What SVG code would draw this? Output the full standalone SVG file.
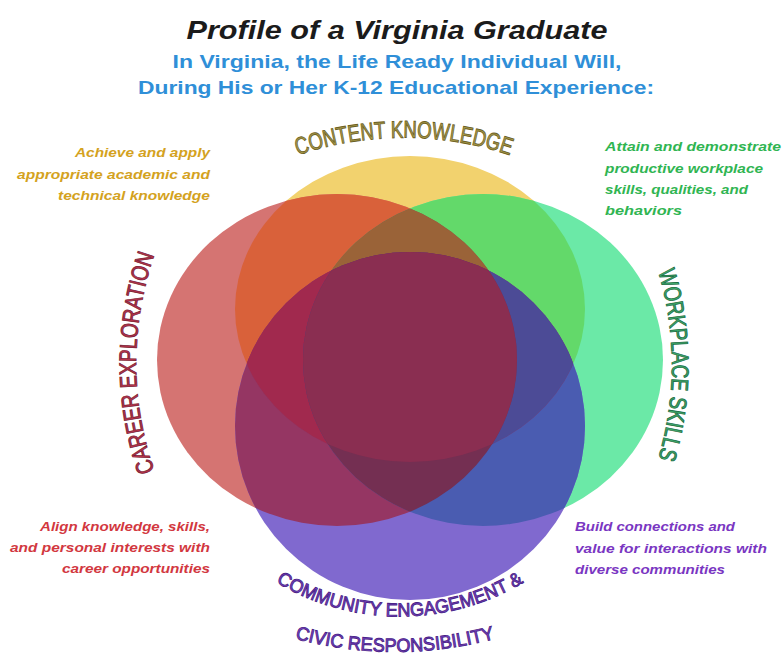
<svg xmlns="http://www.w3.org/2000/svg" xmlns:xlink="http://www.w3.org/1999/xlink" width="782" height="655" viewBox="0 0 782 655">
<style>
  .title{font-family:"Liberation Sans",Arial,sans-serif;font-weight:bold;font-style:italic;font-size:25px;fill:#1b1b1b;}
  .sub{font-family:"Liberation Sans",Arial,sans-serif;font-weight:bold;font-size:19px;fill:#2F8FD8;}
  .desc{font-family:"Liberation Sans",Arial,sans-serif;font-weight:bold;font-style:italic;font-size:13px;}
  .arc{font-family:"Liberation Sans Narrow","Liberation Sans",Arial,sans-serif;font-size:24px;stroke-width:0.9px;}
  .arcS{font-family:"Liberation Sans Narrow","Liberation Sans",Arial,sans-serif;font-size:19px;stroke-width:0.9px;}
</style>
<defs>
  <ellipse id="eY" cx="410" cy="309" rx="175" ry="153"/>
  <ellipse id="eR" cx="337" cy="360" rx="180" ry="166"/>
  <ellipse id="eG" cx="483" cy="360" rx="180" ry="166"/>
  <ellipse id="eP" cx="410" cy="426" rx="175" ry="174"/>
  <clipPath id="cY"><use xlink:href="#eY"/></clipPath>
  <clipPath id="cR"><use xlink:href="#eR"/></clipPath>
  <clipPath id="cG"><use xlink:href="#eG"/></clipPath>
  <clipPath id="cP"><use xlink:href="#eP"/></clipPath>
  <path id="pCK" d="M 290 158 A 330 330 0 0 1 518 158"/>
  <path id="pCE" d="M 157 478 A 328 328 0 0 1 157 248"/>
  <path id="pWS" d="M 654 258 A 329 329 0 0 1 654 472"/>
  <path id="pCM" d="M 255 568 A 241 241 0 0 0 545 568"/>
  <path id="pCV" d="M 262 628 A 382 382 0 0 0 528 628"/>
</defs>

<g id="header">
  <text class="title" x="397" y="39" text-anchor="middle" textLength="421" lengthAdjust="spacingAndGlyphs">Profile of a Virginia Graduate</text>
  <text class="sub" x="397" y="68" text-anchor="middle" textLength="449" lengthAdjust="spacingAndGlyphs">In Virginia, the Life Ready Individual Will,</text>
  <text class="sub" x="396" y="94" text-anchor="middle" textLength="516" lengthAdjust="spacingAndGlyphs">During His or Her K-12 Educational Experience:</text>
</g>

<g id="content-knowledge">
  <use xlink:href="#eY" fill="#F2D26E"/>
  <text class="arc" fill="#A99B4A" stroke="#6C6024"><textPath xlink:href="#pCK" startOffset="50%" text-anchor="middle" textLength="216" lengthAdjust="spacingAndGlyphs">CONTENT KNOWLEDGE</textPath></text>
  <g class="desc" fill="#D4A21E" text-anchor="end">
    <text x="210" y="157" textLength="135" lengthAdjust="spacingAndGlyphs">Achieve and apply</text>
    <text x="210" y="179" textLength="193" lengthAdjust="spacingAndGlyphs">appropriate academic and</text>
    <text x="210" y="200" textLength="152" lengthAdjust="spacingAndGlyphs">technical knowledge</text>
  </g>
</g>

<g id="career-exploration">
  <use xlink:href="#eR" fill="#D57472"/>
  <text class="arc" fill="#B8344C" stroke="#7A1E34"><textPath xlink:href="#pCE" startOffset="50%" text-anchor="middle" textLength="220" lengthAdjust="spacingAndGlyphs">CAREER EXPLORATION</textPath></text>
  <g class="desc" fill="#D2383F" text-anchor="end">
    <text x="210" y="531" textLength="170" lengthAdjust="spacingAndGlyphs">Align knowledge, skills,</text>
    <text x="210" y="552" textLength="200" lengthAdjust="spacingAndGlyphs">and personal interests with</text>
    <text x="210" y="573" textLength="148" lengthAdjust="spacingAndGlyphs">career opportunities</text>
  </g>
</g>

<g id="workplace-skills">
  <use xlink:href="#eG" fill="#6BE9A7"/>
  <text class="arc" fill="#3EAA6C" stroke="#1E6E44"><textPath xlink:href="#pWS" startOffset="50%" text-anchor="middle" textLength="190" lengthAdjust="spacingAndGlyphs">WORKPLACE SKILLS</textPath></text>
  <g class="desc" fill="#30B552">
    <text x="605" y="151" textLength="176" lengthAdjust="spacingAndGlyphs">Attain and demonstrate</text>
    <text x="605" y="173" textLength="158" lengthAdjust="spacingAndGlyphs">productive workplace</text>
    <text x="605" y="194" textLength="143" lengthAdjust="spacingAndGlyphs">skills, qualities, and</text>
    <text x="605" y="215" textLength="77" lengthAdjust="spacingAndGlyphs">behaviors</text>
  </g>
</g>

<g id="community-engagement">
  <use xlink:href="#eP" fill="#8069CF"/>
  <text class="arcS" fill="#7A45C6" stroke="#4A2388"><textPath xlink:href="#pCM" startOffset="50%" text-anchor="middle" textLength="260" lengthAdjust="spacingAndGlyphs">COMMUNITY ENGAGEMENT &amp;</textPath></text>
  <text class="arcS" fill="#7A45C6" stroke="#4A2388"><textPath xlink:href="#pCV" startOffset="50%" text-anchor="middle" textLength="202" lengthAdjust="spacingAndGlyphs">CIVIC RESPONSIBILITY</textPath></text>
  <g class="desc" fill="#7A36C2">
    <text x="575" y="531" textLength="160" lengthAdjust="spacingAndGlyphs">Build connections and</text>
    <text x="575" y="553" textLength="192" lengthAdjust="spacingAndGlyphs">value for interactions with</text>
    <text x="575" y="574" textLength="150" lengthAdjust="spacingAndGlyphs">diverse communities</text>
  </g>
</g>

<g id="overlaps">
  <g clip-path="url(#cY)"><use xlink:href="#eR" fill="#D9613A"/></g>
  <g clip-path="url(#cY)"><use xlink:href="#eG" fill="#63D96A"/></g>
  <g clip-path="url(#cR)"><use xlink:href="#eG" fill="#8A4A50"/></g>
  <g clip-path="url(#cR)"><use xlink:href="#eP" fill="#953663"/></g>
  <g clip-path="url(#cG)"><use xlink:href="#eP" fill="#4A5CB1"/></g>
  <g clip-path="url(#cY)"><use xlink:href="#eP" fill="#8A3A6A"/></g>
  <g clip-path="url(#cY)"><g clip-path="url(#cR)"><use xlink:href="#eG" fill="#9A6338"/></g></g>
  <g clip-path="url(#cY)"><g clip-path="url(#cR)"><use xlink:href="#eP" fill="#A1294E"/></g></g>
  <g clip-path="url(#cY)"><g clip-path="url(#cG)"><use xlink:href="#eP" fill="#4C4B96"/></g></g>
  <g clip-path="url(#cR)"><g clip-path="url(#cG)"><use xlink:href="#eP" fill="#742F52"/></g></g>
  <g clip-path="url(#cY)"><g clip-path="url(#cR)"><g clip-path="url(#cG)"><use xlink:href="#eP" fill="#8A2E51"/></g></g></g>
</g>
</svg>
